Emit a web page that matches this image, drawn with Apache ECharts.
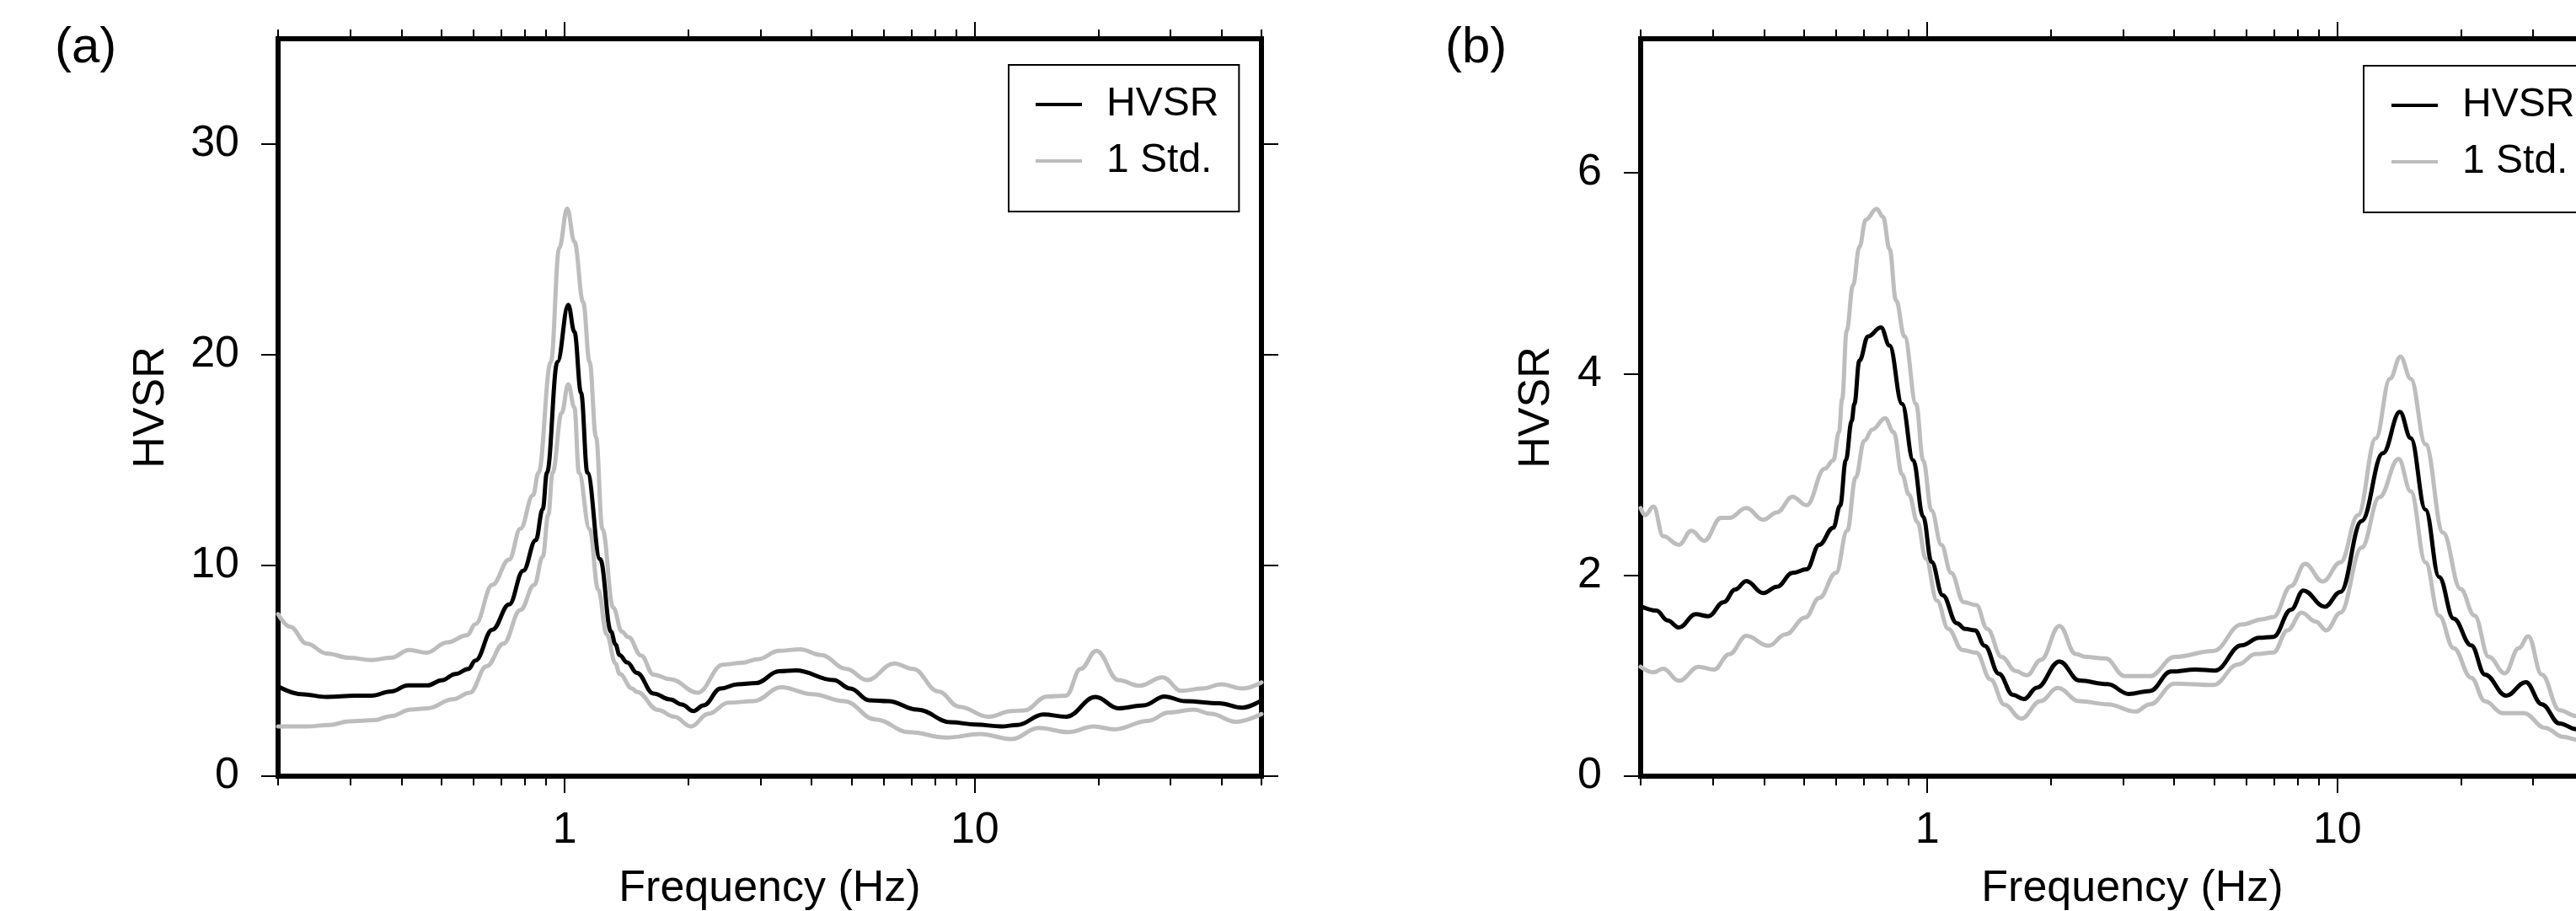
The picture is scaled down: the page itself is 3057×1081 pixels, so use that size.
<!DOCTYPE html>
<html>
<head>
<meta charset="utf-8">
<script src="https://cdn.jsdelivr.net/npm/echarts@6.0.0/dist/echarts.min.js"></script>
<style>
html,body{margin:0;padding:0;background:#fff;}
#chart{width:3057px;height:1081px;}
</style>
</head>
<body>
<div id="chart"></div>
<script>
// ---------- data (frequency Hz, HVSR) ----------
const panelALabel = '(a)';
const panelBLabel = '(b)';
const xMajorTicks = [1, 10];
const xMinorTicks = [0.2, 0.3, 0.4, 0.5, 0.6, 0.7, 0.8, 0.9, 2, 3, 4, 5, 6, 7, 8, 9, 20, 30, 40, 50];
const aYTicks = [0, 10, 20, 30];
const bYTicks = [0, 2, 4, 6];
const aYMax = 35;
const bYMax = 7.33;

const aHvsr = [[0.2,4.26],[0.228,3.89],[0.263,3.76],[0.308,3.82],[0.338,3.82],[0.377,4.02],[0.415,4.31],[0.463,4.31],[0.501,4.55],[0.542,4.85],[0.582,5.09],[0.606,5.49],[0.666,6.95],[0.732,8.15],[0.792,9.75],[0.85,11.2],[0.884,12.68],[0.905,14.4],[0.96,19.66],[1.02,22.37],[1.056,21.09],[1.096,18.2],[1.136,14.4],[1.22,10.3],[1.297,6.86],[1.33,6.25],[1.36,5.75],[1.42,5.4],[1.5,4.9],[1.646,3.92],[1.81,3.64],[1.93,3.4],[2.06,3.09],[2.18,3.36],[2.4,4.16],[2.64,4.36],[2.93,4.42],[3.33,4.98],[3.66,5.02],[4.53,4.56],[4.97,4.16],[5.53,3.6],[6.15,3.56],[7.24,3.16],[8.74,2.56],[10.07,2.45],[11.6,2.36],[12.7,2.43],[14.7,2.93],[16.7,2.82],[19.7,3.76],[22.4,3.22],[25.8,3.36],[29,3.78],[32.6,3.56],[39.4,3.46],[44.9,3.25],[50,3.6]];
const aStdUp = [[0.2,7.69],[0.214,7.09],[0.235,6.29],[0.263,5.82],[0.298,5.62],[0.338,5.51],[0.377,5.62],[0.418,5.99],[0.46,5.86],[0.517,6.35],[0.578,6.69],[0.606,7.22],[0.666,9.08],[0.732,10.28],[0.78,11.75],[0.837,13.34],[0.863,14.4],[0.925,19.66],[0.97,25.08],[1.014,26.94],[1.056,25.37],[1.109,22.5],[1.15,19.66],[1.192,16.1],[1.236,11.72],[1.313,8.0],[1.378,6.86],[1.43,6.6],[1.536,5.72],[1.646,4.82],[1.81,4.6],[2.11,3.96],[2.43,5.29],[2.7,5.38],[2.96,5.55],[3.33,5.95],[3.75,6.02],[4.22,5.75],[4.86,5.09],[5.46,4.56],[6.36,5.35],[7.07,5.09],[8.15,4.02],[9.17,3.29],[10.8,2.82],[12.3,3.09],[13.2,3.12],[15,3.78],[16.7,3.82],[18.1,5.09],[19.8,5.95],[22.4,4.56],[25.2,4.29],[28.7,4.69],[31.9,4.05],[35.9,4.16],[39.9,4.36],[44.9,4.16],[50,4.45]];
const aStdLow = [[0.2,2.36],[0.235,2.36],[0.267,2.43],[0.298,2.6],[0.343,2.66],[0.377,2.85],[0.421,3.16],[0.463,3.22],[0.534,3.65],[0.587,3.96],[0.645,5.22],[0.709,6.29],[0.78,7.89],[0.843,9.08],[0.884,10.42],[0.912,12.41],[0.934,14.4],[0.983,17.24],[1.02,18.6],[1.056,17.5],[1.083,14.4],[1.15,11.72],[1.207,8.86],[1.266,6.72],[1.33,5.35],[1.36,4.86],[1.46,4.16],[1.5,4.0],[1.69,3.14],[1.85,2.82],[2.03,2.36],[2.24,2.96],[2.51,3.49],[2.89,3.56],[3.37,4.22],[4.02,3.89],[4.8,3.56],[5.73,2.69],[6.91,2.09],[8.54,1.83],[10.3,2.0],[12.3,1.76],[14.3,2.29],[16.9,2.09],[19.5,2.36],[21.9,2.22],[26.4,2.62],[29.7,3.02],[34.2,3.16],[37.6,2.96],[43.3,2.58],[50,2.95]];

const bHvsr = [[0.2,1.69],[0.2185,1.646],[0.2327,1.548],[0.248,1.478],[0.2724,1.61],[0.2924,1.59],[0.319,1.73],[0.34,1.855],[0.362,1.94],[0.398,1.82],[0.43,1.883],[0.469,2.02],[0.508,2.056],[0.545,2.3],[0.59,2.47],[0.613,2.69],[0.633,3.14],[0.654,3.53],[0.664,3.7],[0.683,4.13],[0.717,4.37],[0.771,4.46],[0.809,4.28],[0.868,3.7],[0.924,3.14],[0.977,2.58],[1.024,2.13],[1.09,1.8],[1.18,1.52],[1.237,1.464],[1.307,1.45],[1.38,1.297],[1.495,1.018],[1.617,0.808],[1.722,0.766],[1.85,0.88],[2.1,1.14],[2.35,0.95],[2.75,0.915],[3.1,0.817],[3.49,0.847],[3.93,1.04],[4.51,1.06],[5.03,1.05],[5.84,1.3],[6.45,1.376],[6.98,1.385],[7.71,1.655],[8.26,1.846],[9.31,1.684],[10.18,1.832],[11.46,2.537],[12.91,3.21],[14.2,3.62],[15.1,3.36],[16.4,2.65],[17.7,1.98],[19.2,1.567],[21.2,1.3],[22.9,1.01],[25.8,0.8],[28.8,0.935],[31.5,0.715],[34.8,0.524],[38.3,0.466],[41,0.45]];
const bStdUp = [[0.2,2.665],[0.205,2.595],[0.215,2.68],[0.227,2.385],[0.248,2.3],[0.266,2.44],[0.286,2.34],[0.314,2.567],[0.329,2.567],[0.362,2.665],[0.398,2.548],[0.43,2.623],[0.469,2.776],[0.508,2.693],[0.562,3.055],[0.59,3.14],[0.609,3.42],[0.62,3.75],[0.636,4.43],[0.659,4.88],[0.683,5.26],[0.708,5.53],[0.752,5.64],[0.78,5.56],[0.809,5.24],[0.839,4.73],[0.88,4.37],[0.939,3.7],[0.977,3.14],[1.024,2.64],[1.082,2.3],[1.143,2.02],[1.227,1.73],[1.317,1.7],[1.4,1.464],[1.518,1.185],[1.643,1.045],[1.749,1.003],[1.893,1.157],[2.1,1.493],[2.3,1.214],[2.44,1.185],[2.72,1.17],[3.03,0.994],[3.49,0.994],[4.01,1.185],[4.98,1.244],[5.84,1.508],[6.58,1.561],[6.98,1.582],[7.71,1.89],[8.34,2.11],[9.21,1.935],[10.18,2.126],[11.23,2.595],[12.41,3.36],[13.43,3.95],[14.25,4.17],[15.1,3.95],[16.4,3.3],[18.1,2.42],[19.96,1.861],[21.6,1.596],[23.4,1.185],[25.6,1.023],[27.7,1.273],[29.2,1.391],[31.5,1.01],[34.8,0.656],[38.3,0.597],[41,0.58]];
const bStdLow = [[0.2,1.087],[0.215,1.032],[0.227,1.068],[0.248,0.948],[0.277,1.087],[0.302,1.06],[0.329,1.213],[0.362,1.394],[0.41,1.296],[0.451,1.409],[0.504,1.576],[0.545,1.771],[0.599,2.022],[0.638,2.441],[0.669,2.97],[0.702,3.335],[0.735,3.446],[0.789,3.558],[0.828,3.419],[0.868,3.0],[0.902,2.8],[0.946,2.525],[0.992,2.162],[1.056,1.744],[1.125,1.464],[1.218,1.255],[1.317,1.227],[1.426,0.962],[1.542,0.71],[1.695,0.571],[1.887,0.745],[2.08,0.877],[2.35,0.745],[2.75,0.715],[3.22,0.642],[3.49,0.715],[4.01,0.92],[4.98,0.906],[5.73,1.111],[6.32,1.214],[6.98,1.229],[7.56,1.45],[8.18,1.626],[8.85,1.538],[9.4,1.45],[10.18,1.626],[11.46,2.272],[12.66,2.772],[14.1,3.154],[15.1,2.831],[16.4,2.126],[17.7,1.596],[19.2,1.273],[21.2,0.979],[22.9,0.745],[25.3,0.627],[28.5,0.627],[32.1,0.48],[35.5,0.392],[38.3,0.363],[41,0.35]];

// ---------- styling ----------
const FONT = '"Liberation Sans", Arial, Helvetica, sans-serif';
const BLACK = '#000000';
const GRAY = '#bdbdbd';
const FRAME = {color: BLACK, width: 6, cap: 'square'};
const TICK = {color: BLACK, width: 2};
const MAJOR_LEN = 20, MINOR_LEN = 11;
const AXIS_FS = 52;

function xAxesFor(gi) {
  const base = {
    type: 'log', logBase: 10, min: 0.2, max: 50, gridIndex: gi,
    splitLine: {show: false}, minorTick: {show: false}, minorSplitLine: {show: false},
    axisPointer: {show: false}
  };
  return [
    Object.assign({}, base, {
      position: 'bottom',
      axisLine: {show: true, onZero: false, lineStyle: FRAME},
      axisTick: {show: true, inside: false, customValues: xMajorTicks, length: MAJOR_LEN, lineStyle: TICK},
      axisLabel: {show: true, customValues: xMajorTicks, margin: 39, fontSize: AXIS_FS, color: BLACK, fontFamily: FONT},
      name: 'Frequency (Hz)', nameLocation: 'middle', nameGap: 108,
      nameTextStyle: {fontSize: AXIS_FS, color: BLACK, fontFamily: FONT}
    }),
    Object.assign({}, base, {
      position: 'bottom',
      axisLine: {show: false, onZero: false},
      axisTick: {show: true, inside: false, customValues: xMinorTicks, length: MINOR_LEN, lineStyle: TICK},
      axisLabel: {show: false}
    }),
    Object.assign({}, base, {
      position: 'top',
      axisLine: {show: true, onZero: false, lineStyle: FRAME},
      axisTick: {show: true, inside: false, customValues: xMajorTicks, length: MAJOR_LEN, lineStyle: TICK},
      axisLabel: {show: false}
    }),
    Object.assign({}, base, {
      position: 'top',
      axisLine: {show: false, onZero: false},
      axisTick: {show: true, inside: false, customValues: xMinorTicks, length: MINOR_LEN, lineStyle: TICK},
      axisLabel: {show: false}
    })
  ];
}

function yAxesFor(gi, yMax, ticks, nameGap) {
  const base = {
    type: 'value', min: 0, max: yMax, gridIndex: gi,
    splitLine: {show: false}, axisPointer: {show: false}
  };
  return [
    Object.assign({}, base, {
      position: 'left',
      axisLine: {show: true, onZero: false, lineStyle: FRAME},
      axisTick: {show: true, inside: false, customValues: ticks, length: MAJOR_LEN, lineStyle: TICK},
      axisLabel: {show: true, customValues: ticks, margin: 46, fontSize: AXIS_FS, color: BLACK, fontFamily: FONT},
      name: 'HVSR', nameLocation: 'middle', nameGap: nameGap,
      nameTextStyle: {fontSize: AXIS_FS, color: BLACK, fontFamily: FONT}
    }),
    Object.assign({}, base, {
      position: 'right',
      axisLine: {show: true, onZero: false, lineStyle: FRAME},
      axisTick: {show: true, inside: false, customValues: ticks, length: MAJOR_LEN, lineStyle: TICK},
      axisLabel: {show: false}
    })
  ];
}

function lineSeries(name, data, color, xi, yi) {
  return {
    type: 'line', name: name, data: data, xAxisIndex: xi, yAxisIndex: yi,
    showSymbol: false, symbol: 'none', smooth: 0.4, smoothMonotone: 'x',
    lineStyle: {color: color, width: 5, join: 'round', cap: 'round'}, itemStyle: {color: color},
    silent: true, animation: false
  };
}

function legendAt(left, top, padLeft) {
  return {
    orient: 'vertical', left: left, top: top,
    data: ['HVSR', '1 Std.'], icon: 'rect', itemWidth: 55, itemHeight: 4, itemGap: 17,
    padding: [22, 24, 35, padLeft],
    borderColor: BLACK, borderWidth: 2, borderRadius: 0, backgroundColor: '#ffffff',
    selectedMode: false,
    textStyle: {fontSize: 48, lineHeight: 50, color: BLACK, fontFamily: FONT, padding: [0, 0, 0, 24]}
  };
}

const chart = echarts.init(document.getElementById('chart'), null, {renderer: 'canvas'});
const option = {
  animation: false,
  backgroundColor: '#ffffff',
  textStyle: {fontFamily: FONT, color: BLACK},
  grid: [
    {left: 330, top: 46, width: 1167, height: 875, containLabel: false, outerBoundsMode: 'none'},
    {left: 1947, top: 46, width: 1167, height: 875, containLabel: false, outerBoundsMode: 'none'}
  ],
  xAxis: xAxesFor(0).concat(xAxesFor(1)),
  yAxis: yAxesFor(0, aYMax, aYTicks, 124).concat(yAxesFor(1, bYMax, bYTicks, 97)),
  legend: [legendAt(1197, 77, 32), legendAt(2805, 78, 33)],
  series: [
    lineSeries('1 Std.', aStdUp, GRAY, 0, 0),
    lineSeries('1 Std.', aStdLow, GRAY, 0, 0),
    lineSeries('HVSR', aHvsr, BLACK, 0, 0),
    lineSeries('1 Std.', bStdUp, GRAY, 4, 2),
    lineSeries('1 Std.', bStdLow, GRAY, 4, 2),
    lineSeries('HVSR', bHvsr, BLACK, 4, 2)
  ],
  graphic: [
    {type: 'text', left: 65, top: 27, style: {text: panelALabel, font: '60px ' + FONT, fill: BLACK}},
    {type: 'text', left: 1715, top: 27, style: {text: panelBLabel, font: '60px ' + FONT, fill: BLACK}}
  ]
};
chart.setOption(option);
</script>
</body>
</html>
